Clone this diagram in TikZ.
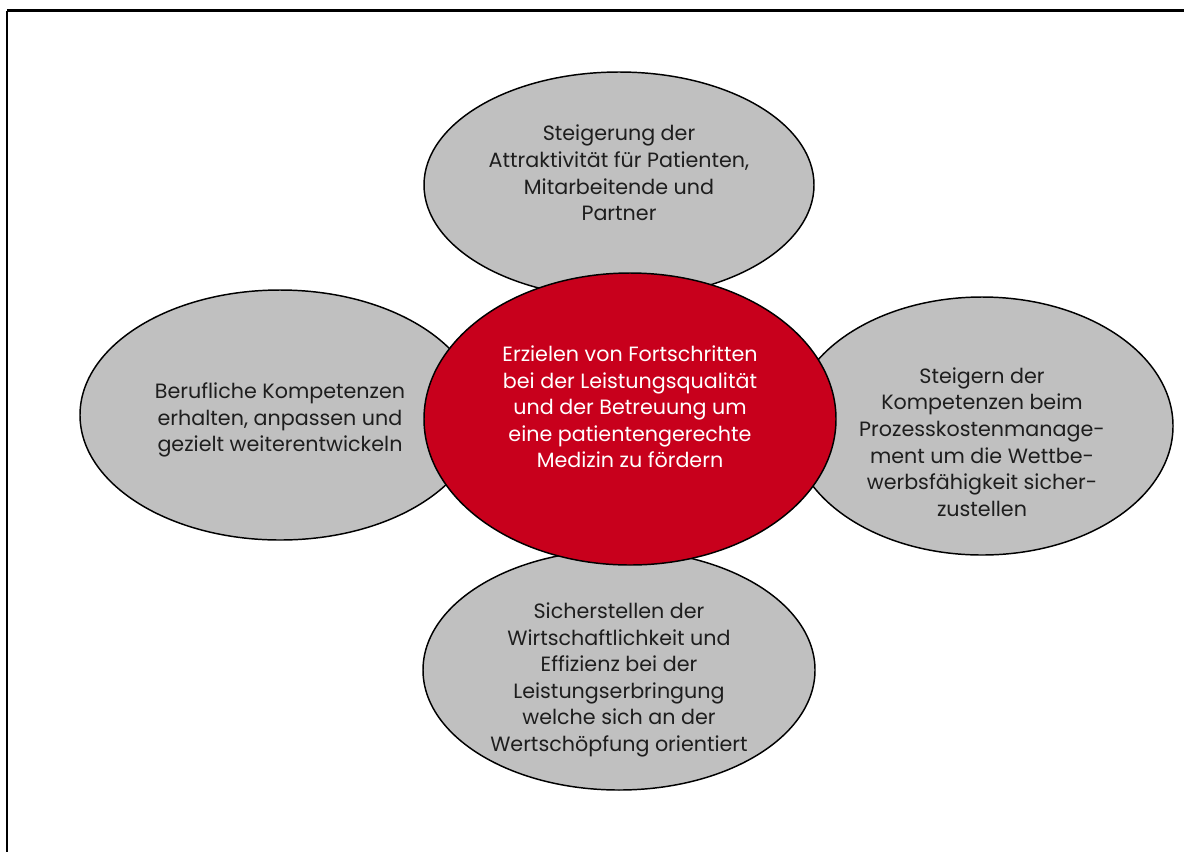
\documentclass[tikz,border=0pt]{standalone}
\usepackage{fontspec}
\setmainfont{Poppins}
\usetikzlibrary{shapes.geometric}
\definecolor{ovalgrey}{RGB}{192,192,192}
\definecolor{ovalred}{RGB}{200,0,28}
\definecolor{txtdark}{RGB}{30,30,30}
\tikzset{
  oval/.style={ellipse, draw=black, line width=1.1pt, fill=ovalgrey, inner sep=0pt},
  redoval/.style={oval, fill=ovalred},
  ovaltext/.style={align=center, text=txtdark, font=\fontsize{15.5}{19.9}\selectfont, inner sep=0pt},
  redtext/.style={ovaltext, text=white},
  frame/.style={draw=black, line width=2.2pt}
}
\begin{document}
\begin{tikzpicture}[x=0.75pt, y=-0.75pt]
\useasboundingbox (0,0) rectangle (1184,851);
\clip (0,0) rectangle (1184,851);
\fill[white] (0,0) rectangle (1184,851);
\draw[frame] (7,10.5) -- (1200,10.5);
\draw[frame] (7,10.5) -- (7,870);
\node[oval, minimum width=292.5pt, minimum height=169.5pt] (top) at (619,185) {};
\node[oval, minimum width=300pt, minimum height=187.5pt] (left) at (280,415) {};
\node[oval, minimum width=286.5pt, minimum height=193.5pt] (right) at (982,426) {};
\node[oval, minimum width=294pt, minimum height=180pt] (bottom) at (619,670) {};
\node[redoval, minimum width=309pt, minimum height=219pt] (center) at (630,419) {};
\node[ovaltext] (ttop) at (619,173) {Steigerung der\\Attraktivität für Patienten,\\Mitarbeitende und\\Partner};
\node[ovaltext] (tleft) at (280,420) {Berufliche Kompetenzen\\erhalten, anpassen und\\gezielt weiterentwickeln};
\node[ovaltext] (tright) at (982,442) {Steigern der\\Kompetenzen beim\\Prozesskostenmanage-\\ment um die Wettbe-\\werbsfähigkeit sicher-\\zustellen};
\node[ovaltext] (tbottom) at (619,680) {Sicherstellen der\\Wirtschaftlichkeit und\\Effizienz bei der\\Leistungserbringung\\welche sich an der\\Wertschöpfung orientiert};
\node[redtext] (tcenter) at (630,407) {Erzielen von Fortschritten\\bei der Leistungsqualität\\und der Betreuung um\\eine patientengerechte\\Medizin zu fördern};
\end{tikzpicture}
\end{document}
